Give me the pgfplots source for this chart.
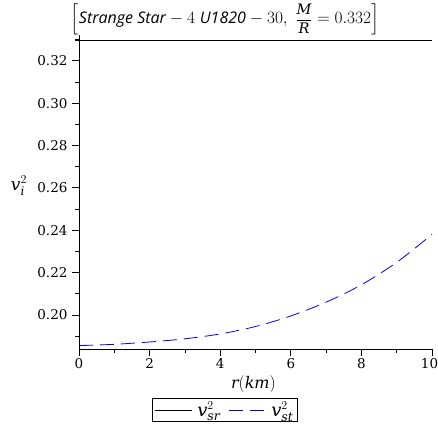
\documentclass[border=0pt]{standalone}
\usepackage{amsmath}
\usepackage{fontspec}
\setmainfont{DejaVu Serif}
\newfontfamily\titlefont{Open Sans}
\usepackage{pgfplots}
\pgfplotsset{compat=1.18}
\begin{document}
\begin{tikzpicture}
\begin{axis}[
  scale only axis,
  width=353pt, height=314pt,
  xmin=0, xmax=10, ymin=0.18389, ymax=0.33218,
  axis x line*=bottom, axis y line*=left,
  axis line style={black, line width=0.8pt, -},
  xtick={0,2,...,10}, minor xtick={1,3,...,9},
  xticklabels={0,2,4,6,8,{\kern-5pt 10}},
  ytick={0.20,0.22,...,0.33}, minor ytick={0.19,0.21,...,0.33},
  yticklabel style={/pgf/number format/fixed, /pgf/number format/fixed zerofill, /pgf/number format/precision=2, xshift=-1pt},
  /pgf/number format/assume math mode=true,
  tick align=outside,
  major tick length=7pt, minor tick length=4pt,
  tick style={black, line width=0.7pt},
  ticklabel style={font=\fontsize{13.5}{16}\selectfont},
  xticklabel style={yshift=1pt},
  legend style={at={(0.4136,-0.194)}, anchor=center, draw=black, line width=0.8pt,
    font=\fontsize{18}{20}\selectfont, legend columns=2, inner sep=2pt,
    /tikz/every odd column/.append style={column sep=3pt},
    /tikz/every even column/.append style={column sep=6pt}},
  legend cell align=left,
  legend image post style={line width=0.8pt},
  legend image code/.code={\draw[#1] (0pt,0pt) -- (37pt,0pt);},
  clip=false,
]
\addlegendimage{black, solid}
\addlegendentry{$\mathit{v}_{\mathit{sr}}^{2}$}
\addplot[blue, line width=0.8pt, dash pattern=on 14pt off 7pt, smooth] coordinates {
(0,0.1855) (1,0.1861) (2,0.1872) (3,0.1887) (4,0.1910) (5,0.1945)
(6,0.1995) (7,0.2060) (8,0.2142) (9,0.2248) (10,0.2380)};
\addlegendentry{$\mathit{v}_{\mathit{st}}^{2}$}
\draw[black, line width=0.8pt] (axis cs:-0.11,0.3298) -- (axis cs:10,0.3298);
\node at (rel axis cs:-0.17,0.52) {\fontsize{17}{19}\selectfont $\mathit{v}_{\mathit{i}}^{2}$};
\node at (rel axis cs:0.494,-0.111) {\fontsize{16}{18}\selectfont $\mathit{r}(\mathit{km})$};
\node at (rel axis cs:0.4136,1.050) [anchor=center, inner sep=0pt] {\fontsize{16}{18}\selectfont $\Bigl[\mbox{\titlefont\itshape Strange Star} - 4\;\mbox{\titlefont\itshape U1820} - 30,\;\mbox{\fontsize{14.5}{16}\selectfont$\dfrac{\mathit{M}}{\mathit{R}}$} = 0.332\Bigr]$};
\end{axis}
\pgfresetboundingbox
\useasboundingbox (-79pt,-86pt) rectangle (359pt,349pt);
\end{tikzpicture}
\end{document}
